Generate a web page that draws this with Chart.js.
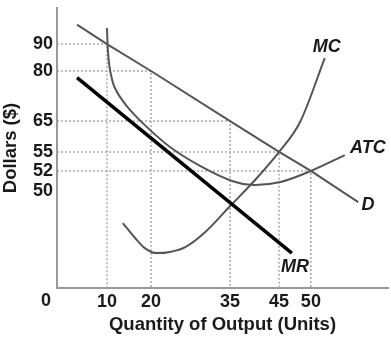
<!DOCTYPE html>
<html>
<head>
<meta charset="utf-8">
<script src="https://cdn.jsdelivr.net/npm/chart.js@4.4.1/dist/chart.umd.min.js"></script>
<style>
  html, body { margin: 0; padding: 0; background: #fff; }
  #wrap { width: 391px; height: 341px; }
</style>
</head>
<body>
<div id="wrap"><canvas id="chart"></canvas></div>
<script>
// tick labels on each axis
const qTicks = [10, 20, 35, 45, 50];
const pTicks = [90, 80, 65, 55, 52, 50];

// dotted guide lines (quantity, price pairs)
const guideQ = [10, 20, 35, 45, 50];
const guideP = [90, 80, 65, 55, 52];

// demand
const demandQ = [4, 10, 20, 35, 45, 50, 59.2];
const demandP = [97, 90, 80, 65, 55, 52, 44.3];

// marginal revenue
const mrQ = [4, 47];
const mrP = [78, 18];

// marginal cost
const mcQ = [13.6, 16.4, 18.6, 21.1, 23.6, 26.5, 30.3, 35, 40.1, 45, 48.3, 52.7];
const mcP = [33.5, 25.8, 20.6, 18.0, 18.6, 21.1, 28.9, 42.3, 51.1, 55, 64.7, 84.8];

// average total cost
const atcQ = [10, 10.2, 10.7, 11.8, 14.5, 18.6, 23.6, 29.3, 35.4, 39.7, 45.2, 50, 56.6];
const atcP = [95.8, 87.8, 80.3, 74.9, 69.5, 63.7, 56.6, 52.8, 51.0, 50.6, 50.9, 52, 54.5];

// curve names and where they sit
const curveNames = ["MC", "ATC", "D", "MR"];
const nameQ = [53.1, 61.1, 61.1, 47.5];
const nameP = [88.9, 56.3, 42.8, 10.8];

// the drawing is not to scale: value -> share of axis length
const KNOTS = {
  x: [[0, 0], [10, 0.151], [20, 0.284], [35, 0.523], [45, 0.671], [50, 0.767], [65, 1]],
  y: [[0, 0], [50, 0.346], [52, 0.418], [55, 0.486], [65, 0.596], [80, 0.775], [90, 0.871], [103, 1]],
};

const FONT = "'Liberation Sans', Arial, sans-serif";
const INK = "#1a1a1a";
const CURVE = "#555";

function interp(knots, v, from, to) {
  for (let i = 1; i < knots.length; i++) {
    const a = knots[i - 1];
    const b = knots[i];
    if (v <= b[from] || i === knots.length - 1) {
      return a[to] + ((v - a[from]) * (b[to] - a[to])) / (b[from] - a[from]);
    }
  }
  return 0;
}

const LinearScale = Chart.LinearScale || Chart.registry.getScale("linear");

class BrokenScale extends LinearScale {
  getPixelForValue(value) {
    return this.getPixelForDecimal(interp(KNOTS[this.id], value, 0, 1));
  }
  getValueForPixel(pixel) {
    return interp(KNOTS[this.id], this.getDecimalForPixel(pixel), 1, 0);
  }
}
BrokenScale.id = "broken";
BrokenScale.defaults = LinearScale.defaults;
Chart.register(BrokenScale);

function pts(qs, ps) {
  return qs.map((q, i) => ({ x: q, y: ps[i] }));
}

const guides = guideQ.map((q, i) => ({
  data: [{ x: 0, y: guideP[i] }, { x: q, y: guideP[i] }, { x: q, y: 0 }],
  borderColor: "#aaa",
  borderWidth: 1.5,
  borderDash: [2, 2],
  pointRadius: 0,
  tension: 0,
}));

const curveLabels = {
  id: "curveLabels",
  afterDatasetsDraw(chart) {
    const { ctx, scales: { x, y } } = chart;
    ctx.save();
    ctx.fillStyle = INK;
    ctx.textAlign = "center";
    ctx.textBaseline = "middle";
    ctx.font = `italic bold 18px ${FONT}`;
    curveNames.forEach((name, i) => {
      ctx.fillText(name, x.getPixelForValue(nameQ[i]), y.getPixelForValue(nameP[i]));
    });
    ctx.font = `bold 18px ${FONT}`;
    ctx.fillText("0", x.getPixelForValue(0) - 11, x.top + 13);
    ctx.restore();
  },
};

const tickFont = { family: FONT, size: 18, weight: "bold" };
const titleFont = { family: FONT, size: 18.5, weight: "bold" };

new Chart(document.getElementById("chart"), {
  type: "line",
  data: {
    datasets: [
      { data: pts(mrQ, mrP), borderColor: "#000", borderWidth: 3.5, pointRadius: 0, tension: 0 },
      { data: pts(mcQ, mcP), borderColor: CURVE, borderWidth: 2, pointRadius: 0, cubicInterpolationMode: "monotone" },
      { data: pts(atcQ, atcP), borderColor: CURVE, borderWidth: 2, pointRadius: 0, tension: 0.3 },
      { data: pts(demandQ, demandP), borderColor: CURVE, borderWidth: 2, pointRadius: 0, tension: 0 },
      ...guides,
    ],
  },
  options: {
    responsive: true,
    maintainAspectRatio: false,
    animation: false,
    layout: { padding: { top: 8, right: 3, bottom: 0, left: 0 } },
    plugins: { legend: { display: false }, tooltip: { enabled: false } },
    scales: {
      x: {
        type: "broken",
        min: 0,
        max: 65,
        grid: { display: false, drawTicks: false },
        border: { display: true, color: "#999", width: 2 },
        ticks: { color: INK, padding: 3, autoSkip: false, maxRotation: 0, font: tickFont },
        afterBuildTicks: (s) => { s.ticks = qTicks.map((v) => ({ value: v })); },
        afterFit: (s) => { s.height = 53; s.paddingLeft = 0; s.paddingRight = 0; },
        title: {
          display: true,
          text: "Quantity of Output (Units)",
          color: INK,
          font: titleFont,
          padding: { top: 0, bottom: 5 },
        },
      },
      y: {
        type: "broken",
        min: 0,
        max: 103,
        grid: { display: false, drawTicks: false },
        border: { display: true, color: "#999", width: 2 },
        ticks: { color: INK, padding: 4, autoSkip: false, font: tickFont },
        afterBuildTicks: (s) => { s.ticks = pTicks.map((v) => ({ value: v })); },
        afterFit: (s) => { s.width = 57; s.paddingTop = 0; s.paddingBottom = 0; },
        title: {
          display: true,
          text: "Dollars ($)",
          color: INK,
          font: titleFont,
          padding: { top: 0, bottom: 0 },
        },
      },
    },
  },
  plugins: [curveLabels],
});
</script>
</body>
</html>
